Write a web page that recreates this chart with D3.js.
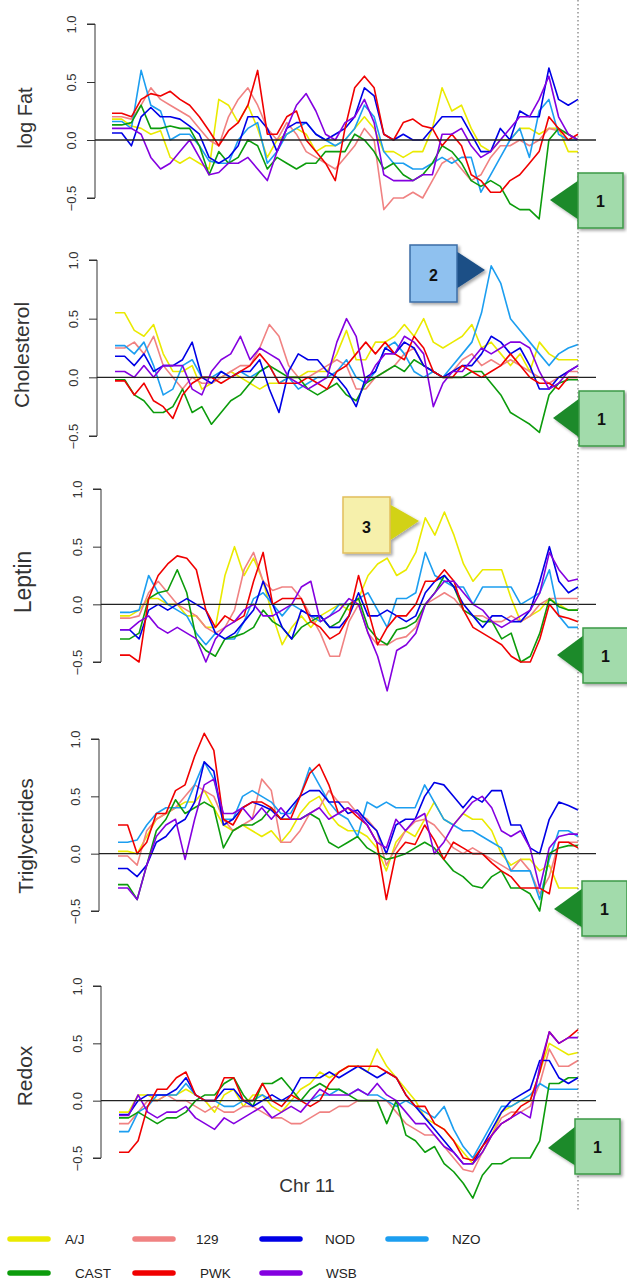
<!DOCTYPE html>
<html>
<head>
<meta charset="utf-8">
<script src="https://cdn.jsdelivr.net/npm/d3@7"></script>
<style>
  body { margin: 0; background: #fff; }
  svg { display: block; font-family: "Liberation Sans", Arial, sans-serif; }
</style>
</head>
<body>
<div id="container"></div>
<script>
const width = 627
const height = 1281

// marker positions along Chr 11 (Mb)
const pos = [0,2.5,5,7.5,10,12.5,15,17.5,20,22.5,25,27.5,30,32.5,35,37.5,40,42.5,45,47.5,50,52.5,55,57.5,60,62.5,65,67.5,70,72.5,75,77.5,80,82.5,85,87.5,90,92.5,95,97.5,100,102.5,105,107.5,110,112.5,115,117.5,120]

const strains = ["A/J","129","NOD","NZO","CAST","PWK","WSB"]
const colors = {"A/J":"#eaea00","129":"#f08282","NOD":"#0000e6","NZO":"#1c9ef0","CAST":"#0c9c0c","PWK":"#f00000","WSB":"#8400e0"}

// log Fat
const fatAJ   = [0.18,0.18,0.12,0.1,0.05,0.08,-0.15,-0.2,-0.15,-0.2,-0.25,0.35,0.3,0.15,0.3,0.1,-0.15,0.0,0.05,0.1,0.05,-0.1,-0.05,-0.05,0.0,0.1,0.2,0.1,-0.1,-0.1,-0.15,-0.1,-0.1,0.1,0.45,0.25,0.3,0.1,-0.05,-0.1,0.0,0.0,0.1,0.1,0.05,0.1,0.1,-0.1,-0.1]
const fat129  = [0.2,0.2,0.18,0.3,0.45,0.35,0.3,0.25,0.2,0.1,0.0,-0.05,0.2,0.35,0.45,0.3,0.1,0.0,0.15,0.05,-0.1,-0.15,-0.2,-0.25,-0.15,-0.05,0.1,0.0,-0.6,-0.5,-0.5,-0.45,-0.5,-0.35,-0.2,-0.15,-0.25,-0.35,-0.3,-0.15,-0.05,-0.05,0.0,-0.05,0.0,0.1,0.08,0.05,0.0]
const fatNOD  = [0.06,0.06,-0.05,0.2,0.28,0.2,0.2,0.18,0.12,0.05,-0.15,-0.2,-0.15,-0.05,0.2,0.2,0.1,-0.1,0.1,0.15,0.15,0.05,0.0,0.05,0.1,0.2,0.45,0.38,0.05,0.0,0.05,0.0,0.0,0.1,0.2,0.2,0.2,0.05,-0.1,-0.1,0.1,0.0,0.25,0.2,0.2,0.62,0.35,0.3,0.35]
const fatNZO  = [0.16,0.16,0.1,0.6,0.3,0.25,0.0,0.05,0.05,-0.05,-0.18,-0.2,-0.2,0.0,0.1,0.15,-0.2,-0.1,0.05,0.1,0.15,0.05,0.0,-0.05,0.0,0.1,0.3,0.2,-0.1,-0.2,-0.2,-0.25,-0.25,-0.2,-0.15,-0.2,-0.15,-0.15,-0.45,-0.3,-0.15,0.0,0.1,-0.15,0.25,0.35,0.05,0.0,0.0]
const fatCAST = [0.13,0.13,0.15,0.3,0.1,0.1,0.12,0.1,0.1,-0.05,-0.3,-0.1,-0.2,-0.15,0.0,-0.05,-0.25,-0.15,-0.2,-0.25,-0.2,-0.2,-0.1,-0.1,-0.1,0.05,0.0,-0.1,-0.25,-0.2,-0.3,-0.35,-0.3,-0.2,-0.05,-0.1,-0.2,-0.35,-0.4,-0.35,-0.4,-0.55,-0.6,-0.6,-0.68,0.0,0.1,0.05,0.0]
const fatPWK  = [0.23,0.23,0.2,0.35,0.4,0.38,0.42,0.35,0.3,0.2,0.08,-0.05,0.08,0.15,0.3,0.6,0.05,0.05,0.2,0.25,0.0,-0.1,-0.2,-0.35,0.1,0.45,0.55,0.45,0.05,0.0,0.15,0.18,0.12,0.1,-0.05,0.05,-0.05,-0.3,-0.35,-0.45,-0.45,-0.35,-0.3,-0.2,-0.1,0.2,0.1,0.0,0.05]
const fatWSB  = [0.1,0.1,0.1,0.05,-0.15,-0.25,-0.2,-0.1,0.0,-0.15,-0.3,-0.28,-0.2,-0.2,-0.15,-0.25,-0.35,-0.1,0.1,0.3,0.4,0.25,0.05,0.0,0.15,0.2,0.35,0.15,-0.3,-0.35,-0.35,-0.35,-0.3,-0.3,0.05,0.05,0.1,-0.05,-0.15,-0.1,0.0,0.1,0.2,0.2,0.35,0.55,0.2,0.05,0.0]

// Cholesterol
const cholAJ   = [0.55,0.55,0.4,0.35,0.45,0.2,0.05,0.05,0.1,-0.1,-0.05,0.0,0.05,0.0,-0.05,-0.1,-0.05,-0.05,0.0,0.0,0.05,0.05,0.05,0.2,0.4,0.15,0.15,0.3,0.3,0.35,0.45,0.35,0.5,0.3,0.25,0.3,0.35,0.45,0.25,0.3,0.2,0.1,0.2,0.05,0.3,0.2,0.15,0.15,0.15]
const chol129  = [0.25,0.25,0.3,0.2,0.35,0.1,0.0,-0.1,0.0,-0.05,-0.05,0.0,0.05,0.1,0.1,0.25,0.45,0.35,0.1,0.0,0.0,0.05,0.1,0.15,0.1,-0.1,-0.1,0.0,0.05,0.1,0.2,0.25,0.1,0.05,0.0,0.05,0.15,0.2,0.1,0.15,0.1,0.15,0.1,0.05,0.0,-0.05,0.0,0.05,0.05]
const cholNOD  = [0.18,0.18,0.1,0.2,0.05,0.1,0.1,0.15,0.3,0.0,-0.05,0.05,0.0,0.05,0.05,0.15,-0.1,-0.3,0.05,0.2,0.15,0.15,0.05,0.0,-0.1,-0.25,0.0,0.05,0.25,0.2,0.3,0.25,0.1,0.05,0.0,0.05,0.1,0.1,0.2,0.35,0.3,0.2,0.25,0.1,-0.1,-0.1,0.0,0.05,0.1]
const cholNZO  = [0.27,0.27,0.2,0.3,0.1,-0.15,-0.1,0.1,0.15,0.0,0.0,0.05,0.0,0.05,0.0,0.05,0.1,-0.05,0.0,-0.1,-0.05,0.0,0.0,0.05,0.15,0.0,-0.05,0.05,0.25,0.3,0.2,0.05,0.0,0.05,0.0,0.1,0.2,0.3,0.55,0.95,0.8,0.5,0.4,0.3,0.2,0.1,0.2,0.25,0.28]
const cholCAST = [-0.02,-0.02,-0.15,-0.2,-0.3,-0.3,-0.25,-0.1,-0.3,-0.25,-0.4,-0.3,-0.2,-0.15,-0.05,0.05,0.1,0.05,0.0,0.0,-0.1,-0.15,-0.1,-0.05,-0.15,-0.2,-0.05,0.0,0.05,0.1,0.05,0.15,0.1,0.05,0.0,0.0,0.0,0.05,0.05,-0.05,-0.15,-0.3,-0.35,-0.4,-0.47,-0.15,-0.05,-0.02,-0.02]
const cholPWK  = [-0.03,-0.03,-0.15,-0.05,-0.2,-0.25,-0.35,-0.15,-0.05,0.0,0.0,-0.05,0.0,0.05,0.1,0.2,0.1,-0.05,-0.05,-0.05,0.0,-0.05,-0.1,0.05,0.1,0.2,0.3,0.2,0.3,0.2,0.15,0.35,0.25,0.05,0.0,0.0,0.1,0.05,0.0,0.05,0.1,0.2,0.1,0.0,-0.05,-0.05,-0.1,0.0,0.0]
const cholWSB  = [0.05,0.05,0.0,0.1,0.0,0.1,0.1,0.1,-0.1,-0.15,0.05,0.15,0.2,0.35,0.15,0.25,0.2,0.15,0.0,-0.05,-0.1,-0.05,0.0,0.3,0.5,0.35,-0.05,0.1,0.2,0.2,0.35,0.3,0.2,-0.25,-0.05,0.05,0.05,0.15,0.25,0.2,0.25,0.3,0.3,0.25,0.05,-0.1,-0.05,0.05,0.1]

// Leptin
const lepAJ   = [-0.1,-0.1,-0.05,0.05,0.05,0.0,0.0,-0.1,-0.1,-0.2,-0.2,0.25,0.5,0.25,0.4,0.2,-0.1,-0.35,-0.2,-0.1,-0.2,-0.1,-0.05,0.0,-0.05,0.05,0.25,0.35,0.4,0.25,0.3,0.45,0.75,0.6,0.8,0.6,0.35,0.2,0.3,0.3,0.3,0.05,-0.15,-0.1,-0.05,0.05,0.0,-0.05,-0.05]
const lep129  = [-0.12,-0.12,-0.1,0.1,0.2,0.1,0.0,-0.05,-0.1,-0.2,-0.25,-0.2,-0.05,0.3,0.45,0.2,0.12,0.15,0.15,0.05,-0.1,-0.25,-0.45,-0.45,-0.15,0.0,-0.25,-0.35,-0.35,-0.3,-0.28,-0.2,0.0,0.05,0.1,0.05,-0.05,-0.1,-0.1,-0.15,-0.15,-0.1,-0.15,-0.1,0.0,0.05,0.05,0.05,0.05]
const lepNOD  = [-0.22,-0.22,-0.3,-0.05,0.0,-0.05,0.0,0.05,0.0,-0.05,-0.25,-0.3,-0.25,-0.15,-0.05,0.2,0.0,-0.2,-0.3,-0.05,-0.1,-0.1,-0.2,-0.2,-0.1,0.1,-0.1,-0.1,-0.05,-0.1,-0.15,-0.1,0.1,0.2,0.25,0.15,0.0,-0.1,-0.2,-0.1,-0.1,-0.15,-0.15,-0.05,0.2,0.5,0.2,0.1,0.15]
const lepNZO  = [-0.07,-0.07,-0.05,0.25,0.1,0.0,-0.05,-0.1,-0.25,-0.35,-0.25,-0.3,-0.3,-0.15,0.05,0.1,0.0,-0.1,0.0,-0.05,-0.1,-0.15,-0.1,0.0,0.0,0.05,0.1,-0.05,-0.2,0.05,0.05,0.1,0.45,0.25,0.2,0.15,0.15,0.0,0.15,0.15,0.15,0.15,0.0,0.05,0.1,0.3,-0.1,-0.2,-0.2]
const lepCAST = [-0.3,-0.3,-0.25,0.05,0.1,0.12,0.3,0.1,-0.3,-0.4,-0.45,-0.3,-0.28,-0.25,-0.2,-0.05,-0.15,-0.2,-0.3,-0.2,-0.15,-0.1,-0.2,-0.15,0.0,0.05,-0.2,-0.3,-0.35,-0.22,-0.2,-0.15,0.0,0.1,0.25,0.15,-0.05,-0.1,-0.15,-0.15,-0.3,-0.25,-0.5,-0.45,-0.25,0.05,-0.02,-0.05,-0.05]
const lepPWK  = [-0.44,-0.44,-0.5,0.05,0.25,0.35,0.42,0.4,0.3,-0.05,-0.2,-0.1,-0.15,-0.1,0.2,0.45,0.0,0.05,0.05,0.05,-0.15,-0.2,-0.3,-0.25,-0.1,0.25,-0.05,-0.35,-0.2,-0.1,-0.1,0.0,0.2,0.2,0.3,0.2,-0.05,-0.2,-0.25,-0.3,-0.35,-0.45,-0.5,-0.5,-0.3,0.0,-0.1,-0.12,-0.15]
const lepWSB  = [-0.22,-0.22,-0.15,-0.1,-0.2,-0.25,-0.2,-0.25,-0.3,-0.5,-0.3,-0.2,-0.15,-0.05,0.0,-0.1,-0.1,-0.05,0.0,0.15,0.2,-0.15,-0.1,-0.05,0.05,0.0,-0.25,-0.45,-0.75,-0.4,-0.35,-0.25,0.0,0.1,0.2,0.2,0.1,0.0,-0.05,-0.15,-0.2,-0.15,-0.1,-0.05,0.1,0.45,0.3,0.2,0.22]

// Triglycerides
const trigAJ   = [0.02,0.02,0.0,0.15,0.3,0.35,0.4,0.45,0.45,0.55,0.4,0.25,0.2,0.25,0.2,0.15,0.2,0.1,0.2,0.35,0.45,0.5,0.35,0.25,0.2,0.2,0.15,0.05,-0.15,0.1,0.2,0.15,0.3,0.45,0.3,0.25,0.35,0.3,0.3,0.2,0.0,-0.1,-0.05,-0.05,-0.15,-0.1,-0.3,-0.3,-0.3]
const trig129  = [-0.02,-0.02,-0.1,0.2,0.3,0.35,0.4,0.5,0.6,0.55,0.5,0.3,0.2,0.25,0.3,0.65,0.55,0.1,0.1,0.2,0.35,0.4,0.55,0.45,0.45,0.35,0.3,0.2,-0.1,0.05,0.2,0.28,0.3,0.25,0.15,0.05,0.0,0.05,0.0,-0.05,-0.1,-0.15,-0.05,-0.15,-0.35,-0.2,0.1,0.1,0.1]
const trigNOD  = [-0.13,-0.13,-0.2,-0.1,0.1,0.15,0.25,0.3,0.45,0.8,0.72,0.25,0.3,0.4,0.45,0.42,0.38,0.3,0.4,0.5,0.55,0.55,0.45,0.45,0.35,0.38,0.28,0.2,0.0,0.25,0.3,0.3,0.5,0.62,0.6,0.5,0.4,0.5,0.45,0.55,0.55,0.25,0.25,0.05,0.0,0.3,0.45,0.42,0.38]
const trigNZO  = [0.1,0.1,0.12,0.25,0.35,0.4,0.4,0.4,0.6,0.8,0.65,0.3,0.3,0.5,0.55,0.5,0.45,0.35,0.35,0.5,0.75,0.6,0.45,0.35,0.3,0.15,0.45,0.4,0.45,0.4,0.4,0.4,0.6,0.45,0.3,0.25,0.2,0.2,0.15,0.1,0.05,-0.15,-0.15,-0.15,-0.4,-0.05,0.2,0.2,0.15]
const trigCAST = [-0.27,-0.27,-0.4,-0.1,0.2,0.3,0.47,0.35,0.4,0.45,0.4,0.05,0.2,0.25,0.25,0.3,0.4,0.3,0.3,0.3,0.35,0.3,0.1,0.05,0.1,0.15,0.05,0.0,-0.05,-0.03,0.0,0.05,0.1,0.05,-0.05,-0.15,-0.2,-0.28,-0.3,-0.2,-0.15,-0.3,-0.3,-0.35,-0.5,0.0,0.05,0.07,0.07]
const trigPWK  = [0.25,0.25,0.0,0.1,0.35,0.35,0.55,0.6,0.85,1.05,0.9,0.3,0.25,0.4,0.45,0.45,0.4,0.3,0.3,0.5,0.7,0.78,0.6,0.35,0.4,0.32,0.25,0.1,-0.4,0.0,0.1,0.08,0.25,0.12,-0.05,0.1,0.05,0.0,0.0,-0.08,-0.15,-0.2,-0.3,-0.3,-0.3,-0.35,0.1,0.1,0.05]
const trigWSB  = [-0.3,-0.3,-0.4,-0.1,0.15,0.25,0.3,-0.05,0.3,0.6,0.65,0.35,0.35,0.4,0.3,0.4,0.3,0.4,0.3,0.3,0.35,0.4,0.3,0.35,0.4,0.35,0.25,0.1,0.05,0.3,0.2,0.3,0.35,0.0,0.1,0.25,0.35,0.45,0.5,0.4,0.2,0.15,0.2,0.05,-0.3,0.05,0.15,0.17,0.17]

// Redox
const redoxAJ   = [-0.1,-0.1,0.05,0.05,0.0,0.05,0.05,0.1,0.05,0.0,-0.1,0.05,0.1,-0.05,0.05,0.05,-0.05,-0.1,0.0,0.1,0.15,0.25,0.2,0.25,0.3,0.3,0.25,0.45,0.3,0.2,0.1,0.0,-0.15,-0.2,-0.25,-0.35,-0.45,-0.55,-0.45,-0.3,-0.1,-0.05,0.0,0.0,0.25,0.5,0.45,0.4,0.42]
const redox129  = [-0.2,-0.2,-0.1,0.0,0.0,0.05,0.0,0.0,-0.05,-0.1,-0.05,-0.1,-0.1,-0.05,-0.05,-0.1,-0.15,-0.15,-0.2,-0.2,-0.15,-0.1,-0.1,-0.05,-0.05,0.0,0.0,0.0,0.0,-0.1,-0.2,-0.25,-0.3,-0.3,-0.4,-0.5,-0.6,-0.62,-0.45,-0.3,-0.15,-0.1,-0.1,-0.05,0.15,0.45,0.3,0.3,0.35]
const redoxNOD  = [-0.12,-0.12,0.0,0.05,0.05,0.05,0.1,0.2,0.05,0.0,0.0,0.1,0.1,0.0,-0.05,0.0,0.05,0.0,0.05,0.2,0.2,0.2,0.25,0.2,0.25,0.3,0.25,0.2,0.25,0.2,0.05,-0.05,-0.15,-0.25,-0.35,-0.45,-0.55,-0.55,-0.4,-0.25,-0.1,0.0,0.05,0.1,0.35,0.35,0.2,0.15,0.2]
const redoxNZO  = [-0.27,-0.27,-0.1,-0.05,0.05,0.05,0.05,0.15,0.05,0.0,0.0,-0.05,-0.05,0.0,0.0,0.05,0.0,0.0,0.0,0.0,0.0,0.05,0.05,0.1,0.05,0.1,0.05,0.05,0.0,-0.05,0.0,-0.05,-0.1,-0.15,-0.05,-0.25,-0.4,-0.5,-0.35,-0.2,-0.05,-0.05,0.0,0.05,0.15,0.1,0.1,0.1,0.1]
const redoxCAST = [-0.15,-0.15,-0.1,-0.15,-0.2,-0.15,-0.15,-0.1,0.0,0.05,0.05,0.15,0.2,0.05,-0.05,0.15,0.15,0.2,0.1,0.0,0.1,0.15,0.1,0.1,0.05,0.0,0.0,0.0,-0.2,0.0,-0.3,-0.35,-0.45,-0.4,-0.55,-0.62,-0.72,-0.85,-0.65,-0.55,-0.55,-0.5,-0.5,-0.5,-0.35,0.15,0.15,0.2,0.2]
const redoxPWK  = [-0.45,-0.45,-0.35,-0.05,0.1,0.1,0.2,0.25,0.05,0.0,0.0,0.2,0.2,0.0,0.0,0.15,0.0,-0.05,0.05,0.0,-0.05,0.0,0.15,0.25,0.3,0.3,0.3,0.3,0.25,0.2,0.05,-0.05,-0.05,-0.2,-0.25,-0.35,-0.5,-0.52,-0.4,-0.3,-0.2,-0.15,-0.05,0.0,0.25,0.6,0.5,0.55,0.62]
const redoxWSB  = [-0.13,-0.13,0.05,-0.1,-0.15,-0.1,-0.1,-0.05,-0.15,-0.2,-0.25,-0.15,-0.2,-0.15,-0.1,-0.05,-0.15,-0.1,-0.05,-0.1,0.0,0.1,0.05,0.05,0.05,0.1,0.05,0.15,0.05,0.0,-0.1,-0.2,-0.2,-0.3,-0.4,-0.45,-0.55,-0.55,-0.45,-0.3,-0.2,-0.15,-0.1,-0.15,0.3,0.6,0.5,0.55,0.55]

const yTicks = [-0.5, 0, 0.5, 1.0]

// panel layout (pixel positions of the -0.5 and 1.0 ticks etc.)
const panels = [
  {title:"log Fat",       size:20,   tx:25, ty:118,  axisX:95,  x0:112, yLow:198,  yHigh:24,
   data:{"A/J":fatAJ,"129":fat129,"NOD":fatNOD,"NZO":fatNZO,"CAST":fatCAST,"PWK":fatPWK,"WSB":fatWSB}},
  {title:"Cholesterol",   size:21,   tx:21, ty:355,  axisX:97,  x0:115, yLow:436,  yHigh:260,
   data:{"A/J":cholAJ,"129":chol129,"NOD":cholNOD,"NZO":cholNZO,"CAST":cholCAST,"PWK":cholPWK,"WSB":cholWSB}},
  {title:"Leptin",        size:23,   tx:23, ty:582,  axisX:101, x0:120, yLow:662,  yHigh:489,
   data:{"A/J":lepAJ,"129":lep129,"NOD":lepNOD,"NZO":lepNZO,"CAST":lepCAST,"PWK":lepPWK,"WSB":lepWSB}},
  {title:"Triglycerides", size:20.5, tx:25, ty:836,  axisX:99,  x0:118, yLow:911,  yHigh:739,
   data:{"A/J":trigAJ,"129":trig129,"NOD":trigNOD,"NZO":trigNZO,"CAST":trigCAST,"PWK":trigPWK,"WSB":trigWSB}},
  {title:"Redox",         size:21,   tx:24, ty:1076, axisX:101, x0:119, yLow:1158, yHigh:986,
   data:{"A/J":redoxAJ,"129":redox129,"NOD":redoxNOD,"NZO":redoxNZO,"CAST":redoxCAST,"PWK":redoxPWK,"WSB":redoxWSB}}
]

const drawOrder = ["A/J","129","NZO","CAST","NOD","PWK","WSB"]
const xEnd = 578

const svg = d3.select("#container")
  .append("svg")
  .attr("width", width)
  .attr("height", height)

const defs = svg.append("defs")
defs.append("filter").attr("id","shadow")
  .attr("x","-30%").attr("y","-30%").attr("width","160%").attr("height","160%")
  .append("feDropShadow")
  .attr("dx",2).attr("dy",2).attr("stdDeviation",1.5)
  .attr("flood-color","#000").attr("flood-opacity",0.35)

panels.forEach(p => {
  const g = svg.append("g")
  const x = d3.scaleLinear().domain([0, 120]).range([p.x0, xEnd])
  const y = d3.scaleLinear().domain([-0.5, 1.0]).range([p.yLow, p.yHigh])

  // y axis
  const axis = d3.axisLeft(y).tickValues(yTicks).tickSize(8).tickFormat(d3.format(".1f"))
  const ag = g.append("g").attr("transform", `translate(${p.axisX},0)`).call(axis)
  ag.select(".domain").attr("d", `M-8,${y(1)}H0V${y(-0.5)}H-8`).attr("stroke","#333")
  ag.selectAll(".tick line").attr("stroke","#333")
  ag.selectAll(".tick text")
    .attr("x", null).attr("dy", null)
    .attr("transform", "translate(-24,0) rotate(-90)")
    .attr("text-anchor","middle")
    .attr("dominant-baseline","central")
    .attr("font-size", 13)
    .attr("font-family", "Liberation Sans, Arial, sans-serif")
    .attr("fill","#333")

  g.append("text")
    .attr("transform", `translate(${p.tx},${p.ty}) rotate(-90)`)
    .attr("text-anchor","middle")
    .attr("dominant-baseline","central")
    .attr("font-size", p.size)
    .attr("fill","#333")
    .text(p.title)

  const line = d3.line()
    .x((d,i) => x(pos[i]))
    .y(d => y(d))

  drawOrder.forEach(s => {
    g.append("path")
      .attr("d", line(p.data[s]))
      .attr("fill","none")
      .attr("stroke", colors[s])
      .attr("stroke-width", 1.6)
      .attr("stroke-linejoin","round")
  })

  // zero line
  g.append("line")
    .attr("x1", p.axisX).attr("x2", 596)
    .attr("y1", y(0)).attr("y2", y(0))
    .attr("stroke","#222").attr("stroke-width",1.4)
})

// dotted marker line at end of chromosome
svg.append("line")
  .attr("x1", xEnd).attr("x2", xEnd)
  .attr("y1", 0).attr("y2", 1210)
  .attr("stroke","#777").attr("stroke-width",1.2)
  .attr("stroke-dasharray","1.5,2.5")

svg.append("text")
  .attr("x", 307).attr("y", 1192)
  .attr("text-anchor","middle")
  .attr("font-size", 19)
  .attr("fill","#333")
  .text("Chr 11")

// callouts
const callout1 = [
  {bx:578, by:173, tip:[550,200]},
  {bx:579, by:391, tip:[553,418]},
  {bx:583, by:628, tip:[557,655]},
  {bx:582, by:881, tip:[554,909]},
  {bx:575, by:1119, tip:[548,1148]}
]
callout1.forEach(c => {
  const cg = svg.append("g").attr("filter","url(#shadow)")
  const cy = c.by + 27
  cg.append("polygon")
    .attr("points", `${c.tip[0]},${c.tip[1]} ${c.bx+1},${cy-20} ${c.bx+1},${cy+20}`)
    .attr("fill","#1f8a2c")
  cg.append("rect")
    .attr("x", c.bx).attr("y", c.by).attr("width", 45).attr("height", 55)
    .attr("fill","#a2dbab").attr("stroke","#3d9a48").attr("stroke-width",1.5)
  svg.append("text")
    .attr("x", c.bx + 22.5).attr("y", cy + 1)
    .attr("text-anchor","middle").attr("dominant-baseline","central")
    .attr("font-size", 16).attr("font-weight","bold").attr("fill","#111")
    .text("1")
})

// callout 2 (NZO peak)
const c2 = svg.append("g").attr("filter","url(#shadow)")
c2.append("polygon").attr("points","456,251 456,289 485,270").attr("fill","#1b4f86")
c2.append("rect").attr("x",410).attr("y",245).attr("width",47).attr("height",57)
  .attr("fill","#8fc1ef").attr("stroke","#3c6ea6").attr("stroke-width",1.5)
svg.append("text").attr("x",433.5).attr("y",275)
  .attr("text-anchor","middle").attr("dominant-baseline","central")
  .attr("font-size",16).attr("font-weight","bold").attr("fill","#111").text("2")

// callout 3 (A/J peak)
const c3 = svg.append("g").attr("filter","url(#shadow)")
c3.append("polygon").attr("points","389,504 389,541 419,521").attr("fill","#d2d214")
c3.append("rect").attr("x",343).attr("y",497).attr("width",47).attr("height",56)
  .attr("fill","#f6f0ab").attr("stroke","#e2bf5c").attr("stroke-width",1.5)
svg.append("text").attr("x",366.5).attr("y",527)
  .attr("text-anchor","middle").attr("dominant-baseline","central")
  .attr("font-size",16).attr("font-weight","bold").attr("fill","#111").text("3")

// legend
const legendRows = [["A/J","129","NOD","NZO"],["CAST","PWK","WSB"]]
const legendLineX = [10, 135, 262, 388]
const legendLabelX = [[65,196,325,452],[75,200,326]]
const legendY = [1239, 1273]
legendRows.forEach((row, r) => {
  row.forEach((s, c) => {
    svg.append("line")
      .attr("x1", legendLineX[c]).attr("x2", legendLineX[c] + 38)
      .attr("y1", legendY[r]).attr("y2", legendY[r])
      .attr("stroke", colors[s]).attr("stroke-width", 5.5)
      .attr("stroke-linecap","round")
    svg.append("text")
      .attr("x", legendLabelX[r][c]).attr("y", legendY[r])
      .attr("dominant-baseline","central")
      .attr("font-size", 13.5).attr("fill","#222")
      .text(s)
  })
})
</script>
</body>
</html>
